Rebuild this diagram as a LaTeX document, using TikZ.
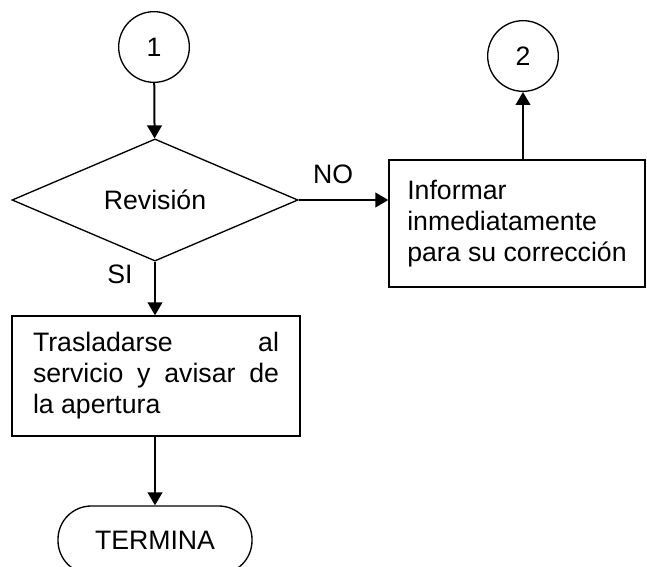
\documentclass[tikz,border=0pt]{standalone}
\usepackage{fontspec}
\setmainfont{Liberation Sans}
\usepackage{tikz}
\usetikzlibrary{shapes.geometric, arrows.meta}

\begin{document}
\begin{tikzpicture}[x=0.75pt, y=-0.75pt,
		font={\fontsize{20}{23.2}\selectfont},
		conn/.style={-{Triangle[length=9.75pt, width=11pt]}, line width=1.5pt},
		circ/.style={draw, line width=1pt, circle, minimum size=53pt, inner sep=0pt},
		box/.style={draw, line width=1pt, rectangle, inner sep=0pt}]
		\useasboundingbox (0,0) rectangle (647,567);

		\node[circ] (c1) at (154,47) {1};
		\node[circ] (c2) at (523,56) {2};
		\node[draw, line width=1pt, diamond, minimum width=214.5pt, minimum height=71.25pt, inner sep=0pt] (rev) at (155,200) {Revisión};
		\node[box, minimum width=192pt, minimum height=95.25pt, align=left] (inf) at (517,223.5) {Informar\\inmediatamente\\para su corrección};
		\node[box, minimum width=216pt, minimum height=90pt, text width=184.5pt, align=justify] (tras) at (156,376) {Trasladarse al\linebreak servicio y avisar de\linebreak la apertura};
		\node[draw, line width=1pt, rectangle, rounded corners=25pt, minimum width=145.5pt, minimum height=51pt] (fin) at (155,540) {TERMINA};

		\node (no) at (333,174) {NO};
		\node (si) at (120,274) {SI};

		\draw[conn] (c1) -- (rev);
		\draw[conn] (rev.east) -- (rev.east -| inf.west);
		\draw[conn] (c2.south |- inf.north) -- (c2.south);
		\draw[conn] (rev.south) -- (rev.south |- tras.north);
		\draw[conn] (tras.south -| fin.north) -- (fin.north);
	\end{tikzpicture}
\end{document}
